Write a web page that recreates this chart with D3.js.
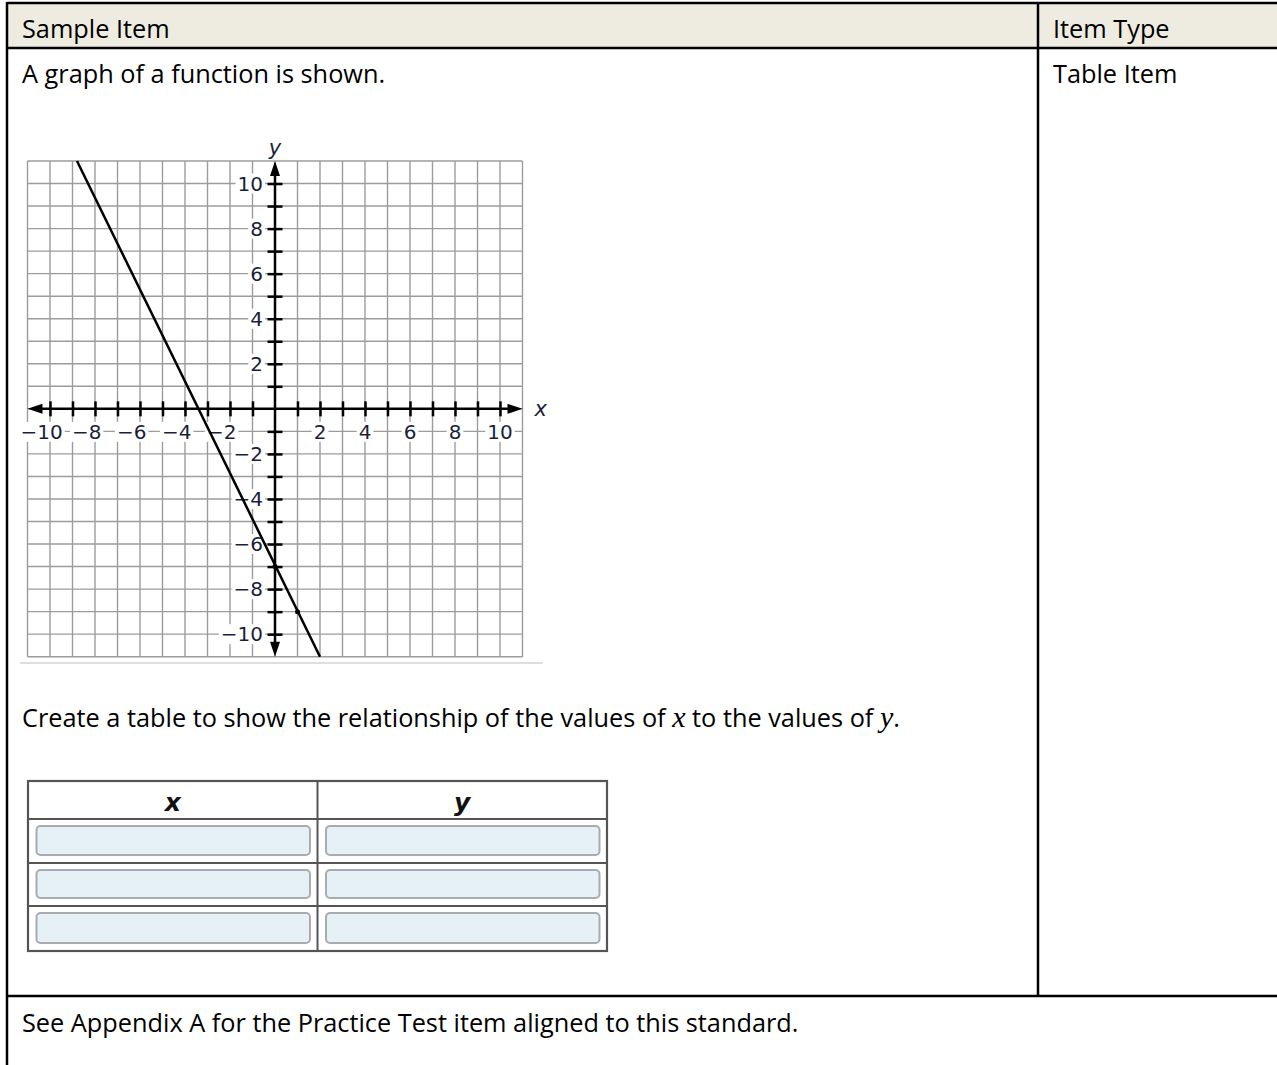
<!DOCTYPE html>
<html>
<head>
<meta charset="utf-8">
<script src="https://cdn.jsdelivr.net/npm/d3@7"></script>
<style>
  body { margin: 0; background: #fff; }
  svg { display: block; }
</style>
</head>
<body>
<div id="page"></div>
<script>
// Chart data
const gridValues = d3.range(-11, 12);
const tickValues = d3.range(-10, 11).filter(d => d !== 0);
const labelValues = [-10, -8, -6, -4, -2, 2, 4, 6, 8, 10];
const yLabelValues = [-10, -8, -6, -4, -2, 2, 4, 6, 8, 10];
const linePoints = [{ x: -8.8, y: 11 }, { x: 2, y: -11 }];
const markedPoints = [{ x: 0, y: -7 }, { x: 1, y: -9 }];
const tableColumns = ["x", "y"];
const tableRows = [1, 2, 3];

const textFont = "'Open Sans', 'Noto Sans', sans-serif";
const mathFont = "'Liberation Serif', 'DejaVu Serif', serif";
const labelColor = "#1b1f3b";

const svg = d3.select("#page").append("svg").attr("width", 1277).attr("height", 1065);

// Outer document table
svg.append("rect").attr("x", 7).attr("y", 3).attr("width", 1270).attr("height", 45).attr("fill", "#eeece1");
const border = svg.append("g").attr("stroke", "#000").attr("stroke-width", 2.5);
border.append("line").attr("x1", 7).attr("x2", 1277).attr("y1", 3).attr("y2", 3);
border.append("line").attr("x1", 7).attr("x2", 1277).attr("y1", 48).attr("y2", 48);
border.append("line").attr("x1", 7).attr("x2", 1277).attr("y1", 996).attr("y2", 996);
border.append("line").attr("x1", 7).attr("x2", 7).attr("y1", 2).attr("y2", 1065);
border.append("line").attr("x1", 1038).attr("x2", 1038).attr("y1", 2).attr("y2", 996);

function addText(x, y, txt) {
    return svg.append("text").attr("x", x).attr("y", y)
        .attr("font-family", textFont).attr("font-size", 25.3).attr("fill", "#000").text(txt);
}
addText(22, 38, "Sample Item");
addText(1053, 38, "Item Type");
addText(22, 83, "A graph of a function is shown.");
addText(1053, 83, "Table Item");
addText(22, 1032, "See Appendix A for the Practice Test item aligned to this standard.");

const sentence = svg.append("text").attr("x", 22).attr("y", 727)
    .attr("font-family", textFont).attr("font-size", 25.3).attr("fill", "#000");
sentence.append("tspan").text("Create a table to show the relationship of the values of ");
sentence.append("tspan").attr("font-family", mathFont).attr("font-style", "italic").attr("font-size", 30).text("x");
sentence.append("tspan").text(" to the values of ");
sentence.append("tspan").attr("font-family", mathFont).attr("font-style", "italic").attr("font-size", 30).text("y");
sentence.append("tspan").text(".");

// Coordinate graph
const x = d3.scaleLinear().domain([-11, 11]).range([27.5, 522.5]);
const y = d3.scaleLinear().domain([-11, 11]).range([656.7, 161]);
const graph = svg.append("g");

// separator under graph
graph.append("line").attr("x1", 20).attr("x2", 543).attr("y1", 663).attr("y2", 663)
    .attr("stroke", "#cfd3d8").attr("stroke-width", 1.5);

// grid
graph.append("g").selectAll("line").data(gridValues).enter().append("line")
    .attr("x1", d => x(d)).attr("x2", d => x(d)).attr("y1", y(11)).attr("y2", y(-11))
    .attr("stroke", "#9c9c9c").attr("stroke-width", 1.4);
graph.append("g").selectAll("line").data(gridValues).enter().append("line")
    .attr("y1", d => y(d)).attr("y2", d => y(d)).attr("x1", x(-11)).attr("x2", x(11))
    .attr("stroke", "#9c9c9c").attr("stroke-width", 1.4);

const fmt = d => (d < 0 ? "\u2212" : "") + Math.abs(d);
const labelFont = "'DejaVu Sans', Verdana, sans-serif";

// x tick labels: digits centred on the tick, minus sign hanging left
const xLabels = graph.append("g");
labelValues.forEach(v => {
    const t = xLabels.append("text").attr("font-family", labelFont)
        .attr("font-size", 20).attr("fill", labelColor).attr("dominant-baseline", "central")
        .attr("text-anchor", "end").attr("y", y(0) + 23).text(fmt(v));
    const probe = xLabels.append("text").attr("font-family", labelFont)
        .attr("font-size", 20).text(Math.abs(v));
    const w = probe.node().getComputedTextLength();
    probe.remove();
    t.attr("x", x(v) + w / 2);
});

// y tick labels
const yLabels = graph.append("g");
yLabelValues.forEach(v => {
    yLabels.append("text").attr("font-family", labelFont)
        .attr("font-size", 20).attr("fill", labelColor).attr("dominant-baseline", "central")
        .attr("text-anchor", "end").attr("x", x(0) - 12).attr("y", y(v)).text(fmt(v));
});

// white backgrounds behind the labels
[xLabels, yLabels].forEach(g => {
    g.selectAll("text").each(function () {
        const b = this.getBBox();
        g.insert("rect", "text").attr("x", b.x - 2).attr("y", b.y + 2)
            .attr("width", b.width + 4).attr("height", b.height - 4).attr("fill", "#fff");
    });
});

// axes with tick marks
const xAxis = graph.append("g").attr("transform", `translate(0,${y(0) - 7.5})`)
    .call(d3.axisBottom(x).tickValues(tickValues).tickSize(15).tickFormat(""));
const yAxis = graph.append("g").attr("transform", `translate(${x(0) + 7.5},0)`)
    .call(d3.axisLeft(y).tickValues(tickValues).tickSize(15).tickFormat(""));
[xAxis, yAxis].forEach(a => {
    a.select(".domain").remove();
    a.selectAll("line").attr("stroke", "#000").attr("stroke-width", 2.5);
});

graph.append("line").attr("x1", x(-11) + 8).attr("x2", x(11) - 8).attr("y1", y(0)).attr("y2", y(0))
    .attr("stroke", "#000").attr("stroke-width", 2.5);
graph.append("line").attr("x1", x(0)).attr("x2", x(0)).attr("y1", y(11) + 8).attr("y2", y(-11) - 8)
    .attr("stroke", "#000").attr("stroke-width", 2.5);

// arrowheads
const arrow = (tx, ty, dx, dy) => {
    const px = -dy, py = dx;
    return `M${tx},${ty} L${tx - dx * 15 + px * 5},${ty - dy * 15 + py * 5} L${tx - dx * 15 - px * 5},${ty - dy * 15 - py * 5} Z`;
};
graph.append("path").attr("d", arrow(x(11), y(0), 1, 0)).attr("fill", "#000");
graph.append("path").attr("d", arrow(x(-11), y(0), -1, 0)).attr("fill", "#000");
graph.append("path").attr("d", arrow(x(0), y(11), 0, -1)).attr("fill", "#000");
graph.append("path").attr("d", arrow(x(0), y(-11), 0, 1)).attr("fill", "#000");

graph.append("text").attr("x", x(11) + 12).attr("y", y(0)).attr("dominant-baseline", "central")
    .attr("font-family", labelFont).attr("font-style", "italic")
    .attr("font-size", 21).attr("fill", labelColor).text("x");
graph.append("text").attr("x", x(0)).attr("y", y(11) - 13).attr("text-anchor", "middle")
    .attr("dominant-baseline", "central")
    .attr("font-family", labelFont).attr("font-style", "italic")
    .attr("font-size", 21).attr("fill", labelColor).text("y");

// the function line
const line = d3.line().x(d => x(d.x)).y(d => y(d.y));
graph.append("path").datum(linePoints).attr("d", line)
    .attr("fill", "none").attr("stroke", "#000").attr("stroke-width", 2.5);
graph.append("g").selectAll("circle").data(markedPoints).enter().append("circle")
    .attr("cx", d => x(d.x)).attr("cy", d => y(d.y)).attr("r", 2.5).attr("fill", "#000");

// answer table
const tx = d3.scaleBand().domain(tableColumns).range([28, 607]);
const ty = d3.scaleOrdinal().domain(tableRows).range([819, 863, 906]);
const rowH = [44, 43, 45];
const tbl = svg.append("g");
tbl.append("rect").attr("x", 28).attr("y", 781).attr("width", 579).attr("height", 170)
    .attr("fill", "#fff").attr("stroke", "#555").attr("stroke-width", 2.2);
tbl.selectAll("line.h").data(tableRows).enter().append("line")
    .attr("x1", 28).attr("x2", 607).attr("y1", d => ty(d)).attr("y2", d => ty(d))
    .attr("stroke", "#555").attr("stroke-width", 2);
tbl.append("line").attr("x1", tx("y")).attr("x2", tx("y")).attr("y1", 781).attr("y2", 951)
    .attr("stroke", "#555").attr("stroke-width", 2);
tbl.selectAll("text").data(tableColumns).enter().append("text")
    .attr("x", d => tx(d) + tx.bandwidth() / 2).attr("y", 811).attr("text-anchor", "middle")
    .attr("font-family", labelFont).attr("font-weight", "bold")
    .attr("font-style", "italic").attr("font-size", 25).attr("fill", "#111").text(d => d);
tableColumns.forEach(c => {
    tbl.append("g").selectAll("rect").data(tableRows).enter().append("rect")
        .attr("x", tx(c) + 8.5).attr("y", (d, i) => ty(d) + 7)
        .attr("width", tx.bandwidth() - 16).attr("height", (d, i) => rowH[i] - 15)
        .attr("rx", 4).attr("fill", "#e5f1f6").attr("stroke", "#a9acae").attr("stroke-width", 2);
});
</script>
</body>
</html>
